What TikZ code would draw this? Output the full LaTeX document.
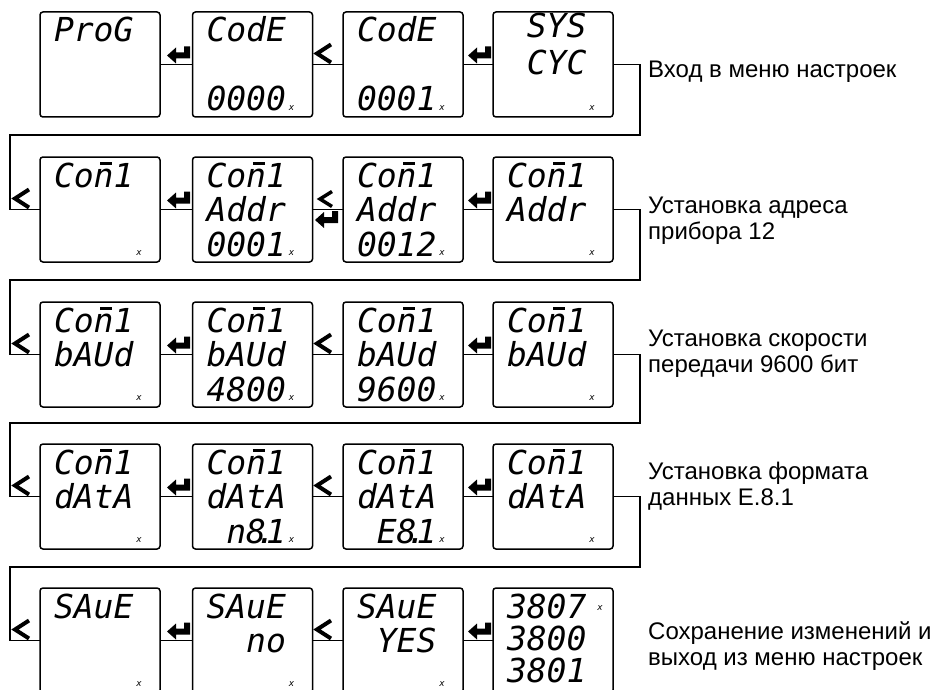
\documentclass[tikz,border=0pt]{standalone}
\usepackage{fontspec}
\setmainfont{Liberation Sans}
\newfontfamily\lcdfont{DejaVu Sans Mono}
\newcommand\lcdn{\smash{\makebox[0pt][l]{\hspace{0.2em}\raisebox{0.68em}{\rule{0.36em}{0.07em}}}}n}
\newcommand\lcddot{\makebox[0pt][c]{.}}
\newcommand\lcdsp{\hphantom{0}}
\newcommand\disp[5]{%
  \node[disp] (#1) at (#2) {};
  \if\relax\detokenize{#3}\relax\else\node[lcd] (#1a) at ([shift={(14,30)}]#1.north west) {#3};\fi
  \if\relax\detokenize{#4}\relax\else\node[lcd] (#1b) at ([shift={(14,64.5)}]#1.north west) {#4};\fi
  \if\relax\detokenize{#5}\relax\else\node[lcd] (#1c) at ([shift={(14,99)}]#1.north west) {#5};\fi
}
\tikzset{
  disp/.style={draw, line width=1.5pt, rounded corners=3pt, minimum width=120pt,
    minimum height=105pt, inner sep=0pt, outer sep=0pt},
  lcd/.style={anchor=base west, inner sep=0pt, outer sep=0pt,
    font=\lcdfont\itshape\fontsize{33}{33}\selectfont},
  mk/.style={inner sep=0pt, font=\lcdfont\itshape\fontsize{9}{9}\selectfont},
  conn/.style={line width=1.4pt},
  lbl/.style={anchor=base west, inner sep=0pt, font=\fontsize{24}{26.5}\selectfont},
  enterkey/.pic={\fill (23,-17) -- (23,-5) -- (9,-5) -- (9,0) -- (0,-8) -- (9,-16)
    -- (9,-11) -- (17,-11) -- (17,-17) -- cycle;},
  chev/.pic={\draw[line width=4pt, miter limit=10] (17,-19) -- (3,-10) -- (17,-1);},
  chevs/.pic={\draw[line width=3.5pt, miter limit=10] (15,-16) -- (3,-8.5) -- (15,-1);},
}
\begin{document}
\begin{tikzpicture}[x=1pt, y=-1pt]
\useasboundingbox (0,0) rectangle (934,690);
\clip (0,0) rectangle (934,690);

% displays
\disp{b11}{100,64.5}{ProG}{}{}
\disp{b12}{252.5,64.5}{CodE}{}{0000}
\disp{b13}{403,64.5}{CodE}{}{0001}
\node[disp] (b14) at (553,64.5) {};
\node[lcd] (b14a) at ([shift={(14,26)}]b14.north west) {\lcdsp SYS};
\node[lcd] (b14b) at ([shift={(14,63)}]b14.north west) {\lcdsp CYC};

\disp{b21}{100,209.5}{Co\lcdn 1}{}{}
\disp{b22}{252.5,209.5}{Co\lcdn 1}{Addr}{0001}
\disp{b23}{403,209.5}{Co\lcdn 1}{Addr}{0012}
\disp{b24}{553,209.5}{Co\lcdn 1}{Addr}{}

\disp{b31}{100,354.5}{Co\lcdn 1}{bAUd}{}
\disp{b32}{252.5,354.5}{Co\lcdn 1}{bAUd}{4800}
\disp{b33}{403,354.5}{Co\lcdn 1}{bAUd}{9600}
\disp{b34}{553,354.5}{Co\lcdn 1}{bAUd}{}

\disp{b41}{100,496.5}{Co\lcdn 1}{dAtA}{}
\disp{b42}{252.5,496.5}{Co\lcdn 1}{dAtA}{\lcdsp n8\lcddot 1}
\disp{b43}{403,496.5}{Co\lcdn 1}{dAtA}{\lcdsp E8\lcddot 1}
\disp{b44}{553,496.5}{Co\lcdn 1}{dAtA}{}

\disp{b51}{100,640.5}{SAuE}{}{}
\disp{b52}{252.5,640.5}{SAuE}{\lcdsp\lcdsp no}{}
\disp{b53}{403,640.5}{SAuE}{\lcdsp YES}{}
\node[disp] (b54) at (553,640.5) {};
\node[lcd] (b54a) at ([shift={(14,30)}]b54.north west) {3807};
\node[lcd] (b54b) at ([shift={(14,62)}]b54.north west) {3800};
\node[lcd] (b54c) at ([shift={(14,94)}]b54.north west) {3801};

% small indicator marks
\foreach \b in {b12,b13,b14,b21,b22,b23,b24,b31,b32,b33,b34,b41,b42,b43,b44,b51,b52,b53}
  \node[mk] (\b-m) at ([shift={(-21,96)}]\b.north east) {x};
\node[mk] (b54-m) at ([shift={(-13,20)}]b54.north east) {x};

% connectors within rows
\foreach \r in {1,...,5}{
  \draw[conn] (b\r1.east) -- (b\r2.west);
  \draw[conn] (b\r2.east) -- (b\r3.west);
  \draw[conn] (b\r3.east) -- (b\r4.west);
}
% row-to-row loops
\draw[conn] (b14.east) -- ++(27,0) |- (10,135) |- (b21.west);
\draw[conn] (b24.east) -- ++(27,0) |- (10,280) |- (b31.west);
\draw[conn] (b34.east) -- ++(27,0) |- (10,423) |- (b41.west);
\draw[conn] (b44.east) -- ++(27,0) |- (10,567) |- (b51.west);

% key symbols
\foreach \y in {64.5,209.5,354.5,496.5,640.5}{
  \pic at (167,\y-1) {enterkey};
  \pic at (468,\y-1) {enterkey};
}
\foreach \y in {64.5,354.5,496.5,640.5}
  \pic at (314,\y-1) {chev};
\pic at (317,207.5) {chevs};
\pic at (315,228) {enterkey};
\foreach \y in {209.5,354.5,496.5,640.5}
  \pic at (12,\y-1) {chev};

% labels
\node[lbl] (l1) at (648,78) {Вход в меню настроек};
\node[lbl] (l2) at (648,213) {\begin{tabular}[t]{@{}l@{}}Установка адреса\\прибора 12\end{tabular}};
\node[lbl] (l3) at (648,346) {\begin{tabular}[t]{@{}l@{}}Установка скорости\\передачи 9600 бит\end{tabular}};
\node[lbl] (l4) at (648,479) {\begin{tabular}[t]{@{}l@{}}Установка формата\\данных E.8.1\end{tabular}};
\node[lbl] (l5) at (648,639) {\begin{tabular}[t]{@{}l@{}}Сохранение изменений и\\выход из меню настроек\end{tabular}};
\end{tikzpicture}
\end{document}
